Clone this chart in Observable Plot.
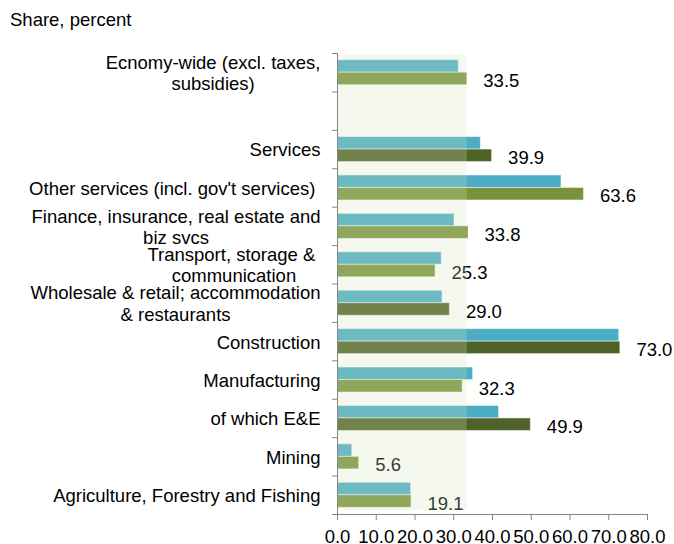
<!DOCTYPE html>
<html><head><meta charset="utf-8">
<script src="https://cdn.jsdelivr.net/npm/d3@7"></script>
<script src="https://cdn.jsdelivr.net/npm/@observablehq/plot@0.6"></script>
<style>
body{margin:0;background:#fff;font-family:"Liberation Sans",Arial,sans-serif;}
#title{height:40px;line-height:40px;font-size:18.5px;padding-left:10px;color:#000;}
</style></head><body>
<div id="title">Share, percent</div>
<div id="chart"></div>
<script>
// Data
const categories = [
  "Ecnomy-wide (excl. taxes,\nsubsidies)",
  "",
  "Services",
  "Other services (incl. gov't services)\u00A0",
  "Finance, insurance, real estate and\nbiz svcs",
  "Transport, storage &\u00A0\ncommunication",
  "Wholesale & retail; accommodation\n& restaurants",
  "Construction",
  "Manufacturing",
  "of which E&E",
  "Mining",
  "Agriculture, Forestry and Fishing"
];
const seriesTop    = [31.3, null, 37.0, 57.8, 30.2, 26.9, 27.1, 72.7, 35.0, 41.7, 3.8, 19.0];
const seriesBottom = [33.5, null, 39.9, 63.6, 33.8, 25.3, 29.0, 73.0, 32.3, 49.9, 5.6, 19.1];
const darkCategories = ["Services", "Wholesale & retail; accommodation\n& restaurants", "Construction", "of which E&E"];
const xTicks = [0, 10, 20, 30, 40, 50, 60, 70, 80];
const economyWide = seriesBottom[0];

// Styles
const FONT = "Liberation Sans, Arial, sans-serif";
const FS = 18.5;
const TEAL = "#4BACC6", LIGHTGREEN = "#77933C", DARKGREEN = "#4F6228", AXIS = "#868686";

const rows = categories.map((c, i) => ({cat: c, i, top: seriesTop[i], bottom: seriesBottom[i]}))
  .filter(d => d.top != null);

const ctx = document.createElement("canvas").getContext("2d");
ctx.font = `${FS}px "Liberation Sans"`;

const labelMarks = categories.map((c, i) => {
  if (!c) return null;
  const lines = c.split("\n");
  const w = Math.max(...lines.map(l => ctx.measureText(l).width));
  const multi = lines.length > 1;
  return Plot.text([c], {
    frameAnchor: "left", y: () => i + 0.5, text: d => d,
    textAnchor: multi ? "middle" : "end",
    dx: multi ? -(17 + w / 2) : -17,
    lineAnchor: "middle", lineHeight: 1.16,
    fontSize: FS, fill: "#000"
  });
}).filter(Boolean);

const chart = Plot.plot({
  width: 674, height: 504,
  marginTop: 13, marginBottom: 30, marginLeft: 337, marginRight: 27,
  style: {fontFamily: FONT, fontSize: FS + "px", color: "#000", background: "#fff", overflow: "visible"},
  x: {domain: [0, 80]},
  y: {domain: [12, 0]},
  marks: [
    Plot.rect(rows, {x1: () => 0, x2: "top", y1: d => d.i, y2: d => d.i + 0.5, insetTop: 6.7,
      fill: TEAL, stroke: "#fff", strokeOpacity: 0.5, strokeWidth: 1}),
    Plot.rect(rows, {x1: () => 0, x2: "bottom", y1: d => d.i + 0.5, y2: d => d.i + 1, insetBottom: 6.7,
      fill: d => darkCategories.includes(d.cat) ? DARKGREEN : LIGHTGREEN, stroke: "#fff", strokeOpacity: 0.5, strokeWidth: 1}),
    Plot.text(rows, {x: "bottom", y: d => d.i + 0.75, text: d => d3.format(".1f")(d.bottom),
      dx: 16, dy: -1, textAnchor: "start", fontSize: FS, fill: "#000"}),
    Plot.rect([economyWide], {x1: () => 0, x2: d => d, y1: () => 0, y2: () => 12, insetTop: 2, insetBottom: 4,
      fill: "#D7E4BD", fillOpacity: 0.25}),
    ...labelMarks,
    Plot.axisY({ticks: d3.range(0, 13), tickSize: 5, tickFormat: () => "", stroke: AXIS, label: null}),
    Plot.ruleX([0], {stroke: AXIS}),
    Plot.ruleY([12], {x1: 0, x2: 80, stroke: AXIS}),
    Plot.axisX({ticks: xTicks, tickFormat: d3.format(".1f"), tickSize: 6, tickPadding: 9,
      stroke: AXIS, fill: "#000", fontSize: FS, label: null})
  ]
});
document.getElementById("chart").appendChild(chart);
</script>
</body></html>
